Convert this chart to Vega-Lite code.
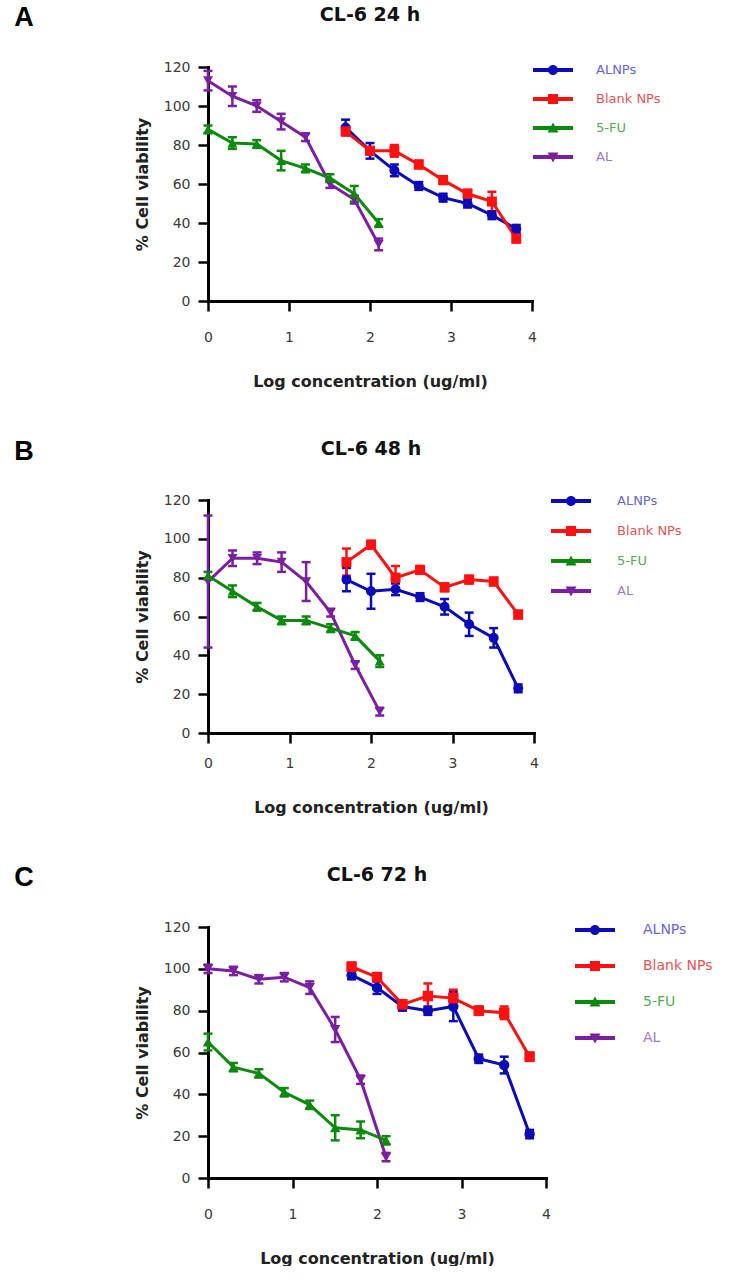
{
  "$schema": "https://vega.github.io/schema/vega-lite/v6.json",
  "background": "white",
  "padding": {"left": 14, "top": 4, "right": 0, "bottom": 0},
  "spacing": 49,
  "datasets": {
    "a": [
      {"series": "AL", "x": 0, "v": 113, "e": 5},
      {"series": "AL", "x": 0.301, "v": 105, "e": 5},
      {"series": "AL", "x": 0.602, "v": 100, "e": 3},
      {"series": "AL", "x": 0.903, "v": 92, "e": 4},
      {"series": "AL", "x": 1.204, "v": 84, "e": 2},
      {"series": "AL", "x": 1.505, "v": 60, "e": 2},
      {"series": "AL", "x": 1.806, "v": 52, "e": 2},
      {"series": "AL", "x": 2.107, "v": 29, "e": 3},
      {"series": "5-FU", "x": 0, "v": 88, "e": 2},
      {"series": "5-FU", "x": 0.301, "v": 81, "e": 3},
      {"series": "5-FU", "x": 0.602, "v": 80.5, "e": 2},
      {"series": "5-FU", "x": 0.903, "v": 72, "e": 5},
      {"series": "5-FU", "x": 1.204, "v": 68, "e": 2},
      {"series": "5-FU", "x": 1.505, "v": 63, "e": 2},
      {"series": "5-FU", "x": 1.806, "v": 55, "e": 4},
      {"series": "5-FU", "x": 2.107, "v": 40, "e": 2},
      {"series": "ALNPs", "x": 1.699, "v": 89, "e": 4},
      {"series": "ALNPs", "x": 2.0, "v": 77, "e": 4},
      {"series": "ALNPs", "x": 2.301, "v": 67, "e": 3},
      {"series": "ALNPs", "x": 2.602, "v": 59, "e": 2},
      {"series": "ALNPs", "x": 2.903, "v": 53, "e": 2},
      {"series": "ALNPs", "x": 3.204, "v": 50, "e": 2},
      {"series": "ALNPs", "x": 3.505, "v": 44, "e": 2},
      {"series": "ALNPs", "x": 3.806, "v": 37, "e": 2},
      {"series": "Blank NPs", "x": 1.699, "v": 87, "e": 2},
      {"series": "Blank NPs", "x": 2.0, "v": 77, "e": 2},
      {"series": "Blank NPs", "x": 2.301, "v": 77, "e": 3},
      {"series": "Blank NPs", "x": 2.602, "v": 70, "e": 2},
      {"series": "Blank NPs", "x": 2.903, "v": 62, "e": 2},
      {"series": "Blank NPs", "x": 3.204, "v": 55, "e": 2},
      {"series": "Blank NPs", "x": 3.505, "v": 51, "e": 5},
      {"series": "Blank NPs", "x": 3.806, "v": 32, "e": 2}
    ],
    "b": [
      {"series": "AL", "x": 0, "v": 78, "e": 34},
      {"series": "AL", "x": 0.301, "v": 90, "e": 4},
      {"series": "AL", "x": 0.602, "v": 90, "e": 3},
      {"series": "AL", "x": 0.903, "v": 88, "e": 5},
      {"series": "AL", "x": 1.204, "v": 78, "e": 10},
      {"series": "AL", "x": 1.505, "v": 62, "e": 2},
      {"series": "AL", "x": 1.806, "v": 35, "e": 2},
      {"series": "AL", "x": 2.107, "v": 11, "e": 2},
      {"series": "5-FU", "x": 0, "v": 81, "e": 2},
      {"series": "5-FU", "x": 0.301, "v": 73, "e": 3},
      {"series": "5-FU", "x": 0.602, "v": 65, "e": 2},
      {"series": "5-FU", "x": 0.903, "v": 58, "e": 2},
      {"series": "5-FU", "x": 1.204, "v": 58, "e": 2},
      {"series": "5-FU", "x": 1.505, "v": 54, "e": 2},
      {"series": "5-FU", "x": 1.806, "v": 50, "e": 2},
      {"series": "5-FU", "x": 2.107, "v": 37, "e": 3},
      {"series": "ALNPs", "x": 1.699, "v": 79, "e": 6},
      {"series": "ALNPs", "x": 2.0, "v": 73, "e": 9},
      {"series": "ALNPs", "x": 2.301, "v": 74, "e": 3},
      {"series": "ALNPs", "x": 2.602, "v": 70, "e": 2},
      {"series": "ALNPs", "x": 2.903, "v": 65, "e": 4},
      {"series": "ALNPs", "x": 3.204, "v": 56, "e": 6},
      {"series": "ALNPs", "x": 3.505, "v": 49, "e": 5},
      {"series": "ALNPs", "x": 3.806, "v": 23, "e": 2},
      {"series": "Blank NPs", "x": 1.699, "v": 88, "e": 7},
      {"series": "Blank NPs", "x": 2.0, "v": 97, "e": 2},
      {"series": "Blank NPs", "x": 2.301, "v": 80, "e": 6},
      {"series": "Blank NPs", "x": 2.602, "v": 84, "e": 2},
      {"series": "Blank NPs", "x": 2.903, "v": 75, "e": 2},
      {"series": "Blank NPs", "x": 3.204, "v": 79, "e": 2},
      {"series": "Blank NPs", "x": 3.505, "v": 78, "e": 2},
      {"series": "Blank NPs", "x": 3.806, "v": 61, "e": 2}
    ],
    "c": [
      {"series": "AL", "x": 0, "v": 100, "e": 2},
      {"series": "AL", "x": 0.301, "v": 99, "e": 2},
      {"series": "AL", "x": 0.602, "v": 95, "e": 2},
      {"series": "AL", "x": 0.903, "v": 96, "e": 2},
      {"series": "AL", "x": 1.204, "v": 91, "e": 3},
      {"series": "AL", "x": 1.505, "v": 71, "e": 6},
      {"series": "AL", "x": 1.806, "v": 47, "e": 2},
      {"series": "AL", "x": 2.107, "v": 10, "e": 2},
      {"series": "5-FU", "x": 0, "v": 65, "e": 4},
      {"series": "5-FU", "x": 0.301, "v": 53, "e": 2},
      {"series": "5-FU", "x": 0.602, "v": 50, "e": 2},
      {"series": "5-FU", "x": 0.903, "v": 41, "e": 2},
      {"series": "5-FU", "x": 1.204, "v": 35, "e": 2},
      {"series": "5-FU", "x": 1.505, "v": 24, "e": 6},
      {"series": "5-FU", "x": 1.806, "v": 23, "e": 4},
      {"series": "5-FU", "x": 2.107, "v": 18, "e": 2},
      {"series": "ALNPs", "x": 1.699, "v": 97, "e": 2},
      {"series": "ALNPs", "x": 2.0, "v": 91, "e": 3},
      {"series": "ALNPs", "x": 2.301, "v": 82, "e": 2},
      {"series": "ALNPs", "x": 2.602, "v": 80, "e": 2},
      {"series": "ALNPs", "x": 2.903, "v": 82, "e": 7},
      {"series": "ALNPs", "x": 3.204, "v": 57, "e": 2},
      {"series": "ALNPs", "x": 3.505, "v": 54, "e": 4},
      {"series": "ALNPs", "x": 3.806, "v": 21, "e": 2},
      {"series": "Blank NPs", "x": 1.699, "v": 101, "e": 2},
      {"series": "Blank NPs", "x": 2.0, "v": 96, "e": 2},
      {"series": "Blank NPs", "x": 2.301, "v": 83, "e": 2},
      {"series": "Blank NPs", "x": 2.602, "v": 87, "e": 6},
      {"series": "Blank NPs", "x": 2.903, "v": 86, "e": 4},
      {"series": "Blank NPs", "x": 3.204, "v": 80, "e": 2},
      {"series": "Blank NPs", "x": 3.505, "v": 79, "e": 3},
      {"series": "Blank NPs", "x": 3.806, "v": 58, "e": 2}
    ]
  },
  "resolve": {"scale": {"color": "independent", "shape": "independent"}, "legend": {"color": "independent", "shape": "independent"}},
  "vconcat": [
    {
      "title": {"text": "A", "anchor": "start", "frame": "bounds", "font": "Liberation Sans", "fontSize": 27, "fontWeight": "bold", "color": "black", "dx": -120, "dy": 30},
      "resolve": {"scale": {"color": "independent", "shape": "independent"}, "legend": {"color": "independent", "shape": "independent"}},
      "vconcat": [
        {
          "width": 324, "height": 234,
          "data": {"name": "a"},
          "title": {"text": "CL-6 24 h", "font": "DejaVu Sans", "fontSize": 19, "fontWeight": "bold", "color": "#111", "anchor": "middle", "frame": "group", "offset": 35},
          "encoding": {
            "x": {"field": "x", "type": "quantitative", "scale": {"domain": [0, 4], "nice": false}, "title": "Log concentration (ug/ml)", "axis": {"values": [0, 1, 2, 3, 4]}},
            "y": {"field": "v", "type": "quantitative", "scale": {"domain": [0, 120], "nice": false}, "title": "% Cell viability", "axis": {"values": [0, 20, 40, 60, 80, 100, 120]}}
          },
          "layer": [
            {"mark": {"type": "errorbar", "ticks": true, "size": 9, "thickness": 2.5, "opacity": 1},
             "encoding": {"yError": {"field": "e"}, "color": {"field": "series", "type": "nominal", "scale": {"domain": ["ALNPs", "Blank NPs", "5-FU", "AL"], "range": ["#0b0bb8", "#ff1010", "#0c8a0c", "#7a1fa2"]}}}},
            {"mark": {"type": "line", "strokeWidth": 3},
             "encoding": {"color": {"field": "series", "type": "nominal", "scale": {"domain": ["ALNPs", "Blank NPs", "5-FU", "AL"], "range": ["#0b0bb8", "#ff1010", "#0c8a0c", "#7a1fa2"]}}}},
            {"mark": {"type": "point", "filled": true, "size": 100, "opacity": 1},
             "encoding": {
               "shape": {"field": "series", "type": "nominal", "scale": {"domain": ["AL", "5-FU", "Blank NPs", "ALNPs"], "range": ["triangle-down", "triangle-up", "square", "circle"]}, "legend": null},
               "color": {"field": "series", "type": "nominal", "scale": {"domain": ["ALNPs", "Blank NPs", "5-FU", "AL"], "range": ["#0b0bb8", "#ff1010", "#0c8a0c", "#7a1fa2"]},
                 "legend": {"title": null, "orient": "none", "legendX": 335, "legendY": -7, "symbolSize": 400, "symbolOpacity": 1, "symbolStrokeWidth": 0, "rowPadding": 12, "labelOffset": 33, "labelFontSize": 13, "labelFont": "DejaVu Sans", "padding": 0,
                   "symbolType": {"expr": "datum.value === 'ALNPs' ? 'M-2,-0.2H2V0.2H-2Z M0.5,0A0.5,0.5 0 1,1 -0.5,0A0.5,0.5 0 1,1 0.5,0Z' : datum.value === 'Blank NPs' ? 'M-2,-0.2H2V0.2H-2Z M-0.5,-0.5H0.5V0.5H-0.5Z' : datum.value === '5-FU' ? 'M-2,-0.2H2V0.2H-2Z M0,-0.55L0.55,0.45H-0.55Z' : 'M-2,-0.2H2V0.2H-2Z M-0.55,-0.45H0.55L0,0.55Z'"},
                   "labelColor": {"expr": "datum.value === 'ALNPs' ? '#6666d4' : datum.value === 'Blank NPs' ? '#e25555' : datum.value === '5-FU' ? '#55aa55' : '#a278c8'"}}}
             }}
          ]
        }
      ]
    },
    {
      "title": {"text": "B", "anchor": "start", "frame": "bounds", "font": "Liberation Sans", "fontSize": 27, "fontWeight": "bold", "color": "black", "dx": -120, "dy": 30},
      "resolve": {"scale": {"color": "independent", "shape": "independent"}, "legend": {"color": "independent", "shape": "independent"}},
      "vconcat": [
        {
          "width": 326, "height": 233,
          "data": {"name": "b"},
          "title": {"text": "CL-6 48 h", "font": "DejaVu Sans", "fontSize": 19, "fontWeight": "bold", "color": "#111", "anchor": "middle", "frame": "group", "offset": 32},
          "encoding": {
            "x": {"field": "x", "type": "quantitative", "scale": {"domain": [0, 4], "nice": false}, "title": "Log concentration (ug/ml)", "axis": {"values": [0, 1, 2, 3, 4], "labelPadding": 13}},
            "y": {"field": "v", "type": "quantitative", "scale": {"domain": [0, 120], "nice": false}, "title": "% Cell viability", "axis": {"values": [0, 20, 40, 60, 80, 100, 120]}}
          },
          "layer": [
            {"mark": {"type": "errorbar", "ticks": true, "size": 9, "thickness": 2.5, "opacity": 1},
             "encoding": {"yError": {"field": "e"}, "color": {"field": "series", "type": "nominal", "scale": {"domain": ["ALNPs", "Blank NPs", "5-FU", "AL"], "range": ["#0b0bb8", "#ff1010", "#0c8a0c", "#7a1fa2"]}}}},
            {"mark": {"type": "line", "strokeWidth": 3},
             "encoding": {"color": {"field": "series", "type": "nominal", "scale": {"domain": ["ALNPs", "Blank NPs", "5-FU", "AL"], "range": ["#0b0bb8", "#ff1010", "#0c8a0c", "#7a1fa2"]}}}},
            {"mark": {"type": "point", "filled": true, "size": 100, "opacity": 1},
             "encoding": {
               "shape": {"field": "series", "type": "nominal", "scale": {"domain": ["AL", "5-FU", "Blank NPs", "ALNPs"], "range": ["triangle-down", "triangle-up", "square", "circle"]}, "legend": null},
               "color": {"field": "series", "type": "nominal", "scale": {"domain": ["ALNPs", "Blank NPs", "5-FU", "AL"], "range": ["#0b0bb8", "#ff1010", "#0c8a0c", "#7a1fa2"]},
                 "legend": {"title": null, "orient": "none", "legendX": 353, "legendY": -9, "symbolSize": 400, "symbolOpacity": 1, "symbolStrokeWidth": 0, "rowPadding": 13, "labelOffset": 36, "labelFontSize": 13, "labelFont": "DejaVu Sans", "padding": 0,
                   "symbolType": {"expr": "datum.value === 'ALNPs' ? 'M-2,-0.2H2V0.2H-2Z M0.5,0A0.5,0.5 0 1,1 -0.5,0A0.5,0.5 0 1,1 0.5,0Z' : datum.value === 'Blank NPs' ? 'M-2,-0.2H2V0.2H-2Z M-0.5,-0.5H0.5V0.5H-0.5Z' : datum.value === '5-FU' ? 'M-2,-0.2H2V0.2H-2Z M0,-0.55L0.55,0.45H-0.55Z' : 'M-2,-0.2H2V0.2H-2Z M-0.55,-0.45H0.55L0,0.55Z'"},
                   "labelColor": {"expr": "datum.value === 'ALNPs' ? '#6666d4' : datum.value === 'Blank NPs' ? '#e25555' : datum.value === '5-FU' ? '#55aa55' : '#a278c8'"}}}
             }}
          ]
        }
      ]
    },
    {
      "title": {"text": "C", "anchor": "start", "frame": "bounds", "font": "Liberation Sans", "fontSize": 27, "fontWeight": "bold", "color": "black", "dx": -120, "dy": 30},
      "resolve": {"scale": {"color": "independent", "shape": "independent"}, "legend": {"color": "independent", "shape": "independent"}},
      "vconcat": [
        {
          "width": 338, "height": 251,
          "data": {"name": "c"},
          "title": {"text": "CL-6 72 h", "font": "DejaVu Sans", "fontSize": 19, "fontWeight": "bold", "color": "#111", "anchor": "middle", "frame": "group", "offset": 35},
          "encoding": {
            "x": {"field": "x", "type": "quantitative", "scale": {"domain": [0, 4], "nice": false}, "title": "Log concentration (ug/ml)", "axis": {"values": [0, 1, 2, 3, 4]}},
            "y": {"field": "v", "type": "quantitative", "scale": {"domain": [0, 120], "nice": false}, "title": "% Cell viability", "axis": {"values": [0, 20, 40, 60, 80, 100, 120]}}
          },
          "layer": [
            {"mark": {"type": "errorbar", "ticks": true, "size": 9, "thickness": 2.5, "opacity": 1},
             "encoding": {"yError": {"field": "e"}, "color": {"field": "series", "type": "nominal", "scale": {"domain": ["ALNPs", "Blank NPs", "5-FU", "AL"], "range": ["#0b0bb8", "#ff1010", "#0c8a0c", "#7a1fa2"]}}}},
            {"mark": {"type": "line", "strokeWidth": 3},
             "encoding": {"color": {"field": "series", "type": "nominal", "scale": {"domain": ["ALNPs", "Blank NPs", "5-FU", "AL"], "range": ["#0b0bb8", "#ff1010", "#0c8a0c", "#7a1fa2"]}}}},
            {"mark": {"type": "point", "filled": true, "size": 110, "opacity": 1},
             "encoding": {
               "shape": {"field": "series", "type": "nominal", "scale": {"domain": ["AL", "5-FU", "Blank NPs", "ALNPs"], "range": ["triangle-down", "triangle-up", "square", "circle"]}, "legend": null},
               "color": {"field": "series", "type": "nominal", "scale": {"domain": ["ALNPs", "Blank NPs", "5-FU", "AL"], "range": ["#0b0bb8", "#ff1010", "#0c8a0c", "#7a1fa2"]},
                 "legend": {"title": null, "orient": "none", "legendX": 377, "legendY": -7, "symbolSize": 400, "symbolOpacity": 1, "symbolStrokeWidth": 0, "rowPadding": 19, "labelOffset": 38, "labelFontSize": 14, "labelFont": "DejaVu Sans", "padding": 0,
                   "symbolType": {"expr": "datum.value === 'ALNPs' ? 'M-2,-0.2H2V0.2H-2Z M0.5,0A0.5,0.5 0 1,1 -0.5,0A0.5,0.5 0 1,1 0.5,0Z' : datum.value === 'Blank NPs' ? 'M-2,-0.2H2V0.2H-2Z M-0.5,-0.5H0.5V0.5H-0.5Z' : datum.value === '5-FU' ? 'M-2,-0.2H2V0.2H-2Z M0,-0.55L0.55,0.45H-0.55Z' : 'M-2,-0.2H2V0.2H-2Z M-0.55,-0.45H0.55L0,0.55Z'"},
                   "labelColor": {"expr": "datum.value === 'ALNPs' ? '#6666d4' : datum.value === 'Blank NPs' ? '#e25555' : datum.value === '5-FU' ? '#55aa55' : '#a278c8'"}}}
             }}
          ]
        }
      ]
    }
  ],
  "config": {
    "view": {"stroke": null},
    "font": "DejaVu Sans",
    "axis": {
      "grid": false,
      "domainColor": "black", "domainWidth": 3, "domainCap": "square",
      "tickColor": "black", "tickWidth": 2.5, "tickSize": 10,
      "labelFont": "DejaVu Sans", "labelFontSize": 14, "labelColor": "#3a3a3a",
      "labelFlush": false, "labelOverlap": false,
      "titleFont": "DejaVu Sans", "titleFontSize": 16, "titleFontWeight": "bold", "titleColor": "#222"
    },
    "axisX": {"labelPadding": 19, "titlePadding": 29},
    "axisY": {"labelPadding": 8, "titlePadding": 13}
  }
}
